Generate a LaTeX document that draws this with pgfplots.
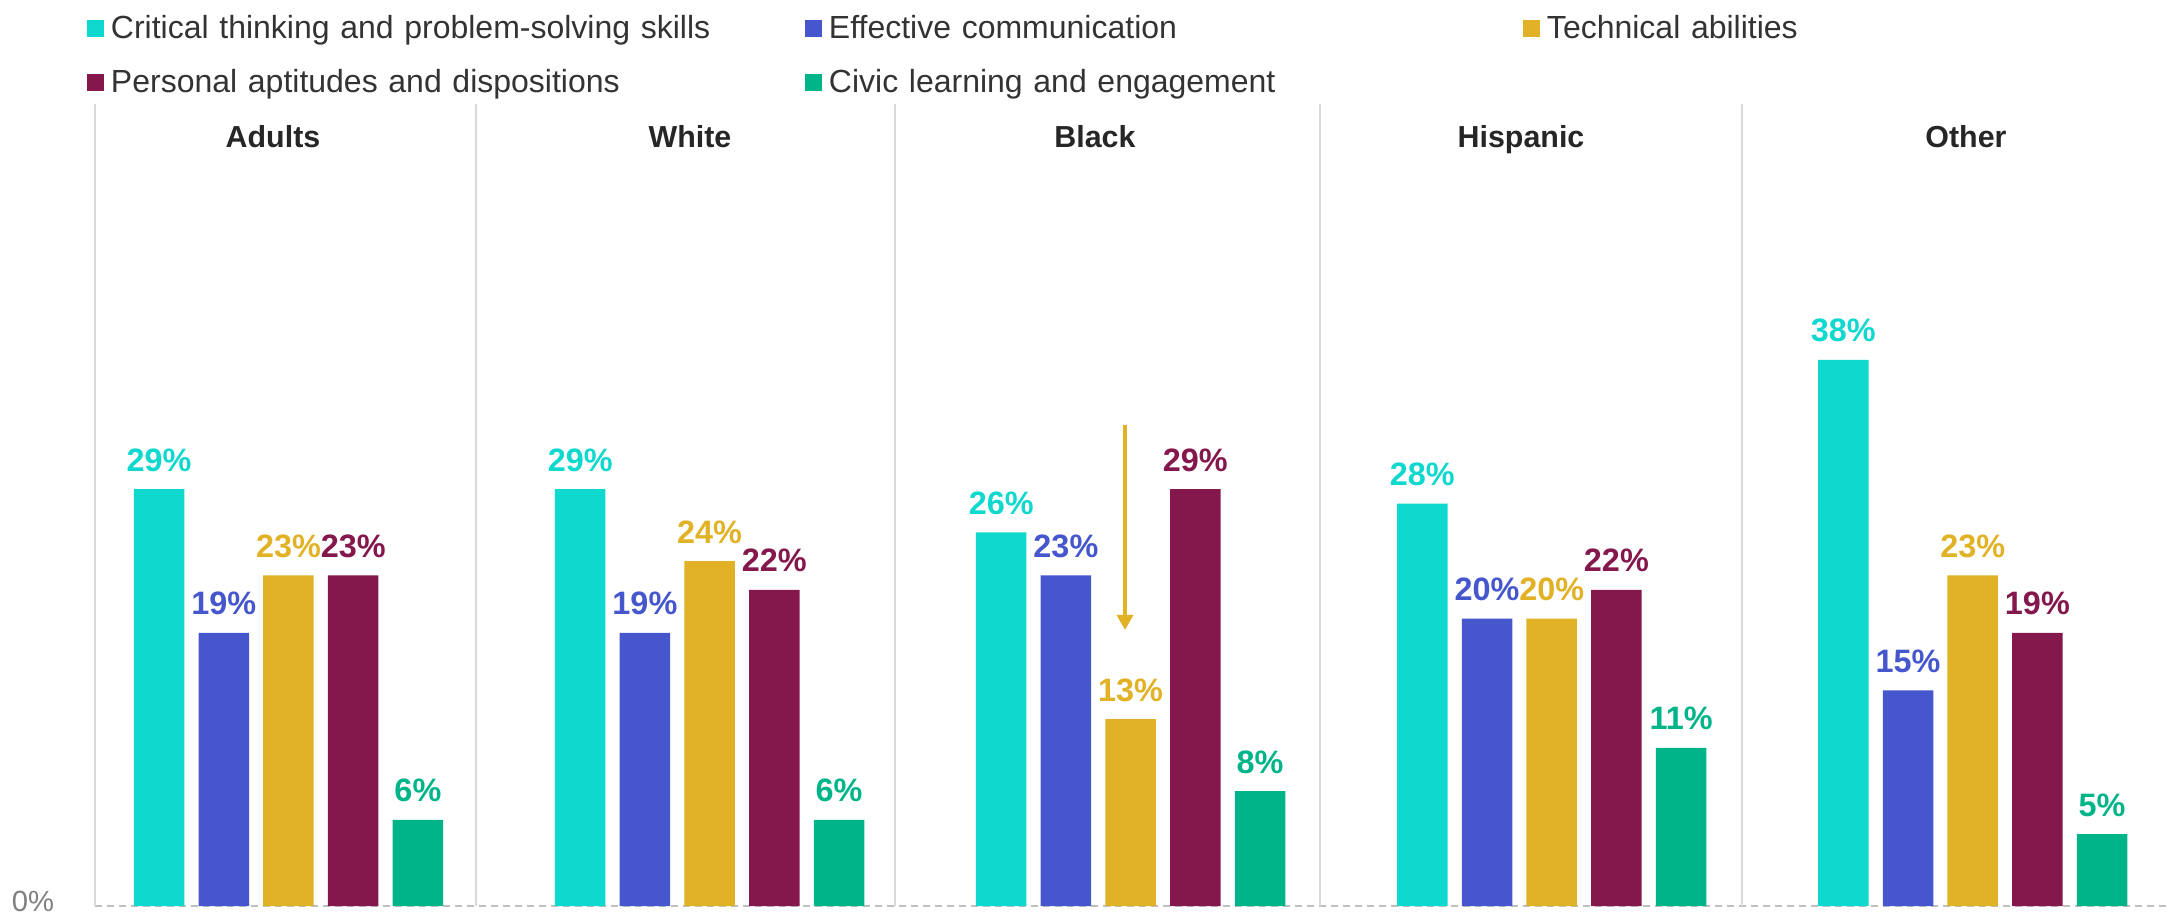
\documentclass[border=0pt]{standalone}
\usepackage{pgfplots}
\pgfplotsset{compat=1.18}
\usepackage{fontspec}
\setmainfont{Liberation Sans}
\usetikzlibrary{arrows.meta}
\definecolor{cCyan}{HTML}{0FD8CE}
\definecolor{cBlue}{HTML}{4657CE}
\definecolor{cGold}{HTML}{E1B126}
\definecolor{cMaroon}{HTML}{84174B}
\definecolor{cGreen}{HTML}{00B48A}
\definecolor{txtDark}{HTML}{262626}
\definecolor{txtLeg}{HTML}{333333}
\definecolor{txtGray}{HTML}{7F7F7F}
\definecolor{sepGray}{HTML}{D9D9D9}
\definecolor{baseGray}{HTML}{BFBFBF}
\pgfplotsset{
  barlab/.style={
    nodes near coords={\pgfmathprintnumber[assume math mode=true]{\pgfplotspointmeta}\%},
    every node near coord/.append style={font=\bfseries\fontsize{8.1}{9}\selectfont,
      text=#1, anchor=base, yshift=4.5pt, inner sep=0pt}
  }
}
\begin{document}
\begin{tikzpicture}
\useasboundingbox (0,0) rectangle (544.5pt,228pt);
\begin{axis}[
  at={(23.75pt,1.5pt)}, anchor=south west,
  scale only axis, width=518.75pt, height=200.5pt,
  xmin=95, xmax=2170, ymin=0, ymax=55.8,
  clip=false,
  axis line style={draw=none},
  tick style={draw=none},
  xtick=\empty,
  ytick={0}, yticklabels={0\%},
  yticklabel style={font=\fontsize{7.3}{8}\selectfont, text=txtGray, anchor=east, inner sep=0pt, xshift=-10pt, yshift=1.2pt},
  ymajorgrids,
  major grid style={draw=baseGray, line width=0.6pt, dash pattern=on 1.75pt off 1.25pt},
  extra x ticks={95,476,895,1320,1742},
  extra x tick labels={},
  extra x tick style={grid=major, major grid style={solid, draw=sepGray, line width=0.5pt}},
  legend columns=3,
  legend cell align=left,
  legend image code/.code={\fill[#1] (0pt,0.5pt) rectangle (4.25pt,4.75pt);},
  legend style={draw=none, fill=none, inner sep=0pt, outer sep=0pt,
    at={(axis description cs:-0.00386,1.111)}, anchor=north west,
    font=\fontsize{8}{9.6}\selectfont, text=txtLeg,
    cells={anchor=base west},
    nodes={inner sep=0pt, text width=173.5pt, align=left, text height=6pt, text depth=1.7pt},
    /tikz/every odd column/.append style={column sep=1.75pt},
    /tikz/row sep=5.8pt},
]
\addplot[ybar, bar width=50.5, bar shift=0pt, fill=cCyan, draw=none, barlab=cCyan]
  coordinates {(159.1,29) (580.2,29) (1001.2,26) (1422.3,28) (1843.3,38)};
\addlegendentry{Critical thinking and problem-solving skills}
\addplot[ybar, bar width=50.5, bar shift=0pt, fill=cBlue, draw=none, barlab=cBlue]
  coordinates {(223.8,19) (644.9,19) (1065.9,23) (1487.0,20) (1908.0,15)};
\addlegendentry{Effective communication}
\addplot[ybar, bar width=50.5, bar shift=0pt, fill=cGold, draw=none, barlab=cGold]
  coordinates {(288.5,23) (709.6,24) (1130.6,13) (1551.7,20) (1972.7,23)};
\addlegendentry{Technical abilities}
\addplot[ybar, bar width=50.5, bar shift=0pt, fill=cMaroon, draw=none, barlab=cMaroon]
  coordinates {(353.2,23) (774.3,22) (1195.3,29) (1616.4,22) (2037.4,19)};
\addlegendentry{Personal aptitudes and dispositions}
\addplot[ybar, bar width=50.5, bar shift=0pt, fill=cGreen, draw=none, barlab=cGreen]
  coordinates {(417.9,6) (839.0,6) (1260.0,8) (1681.1,11) (2102.1,5)};
\addlegendentry{Civic learning and engagement}
\draw[-{Triangle[width=4pt,length=3.8pt]}, draw=cGold, line width=1.15pt]
  (axis cs:1125,33.5) -- (axis cs:1125,19.2);
\begin{scope}[every node/.style={anchor=base, font=\bfseries\fontsize{7.6}{9}\selectfont, text=txtDark}]
\node at (axis cs:273,52.75) {Adults};
\node at (axis cs:690,52.75) {White};
\node at (axis cs:1095,52.75) {Black};
\node at (axis cs:1521,52.75) {Hispanic};
\node at (axis cs:1966,52.75) {Other};
\end{scope}
\end{axis}
\end{tikzpicture}
\end{document}
